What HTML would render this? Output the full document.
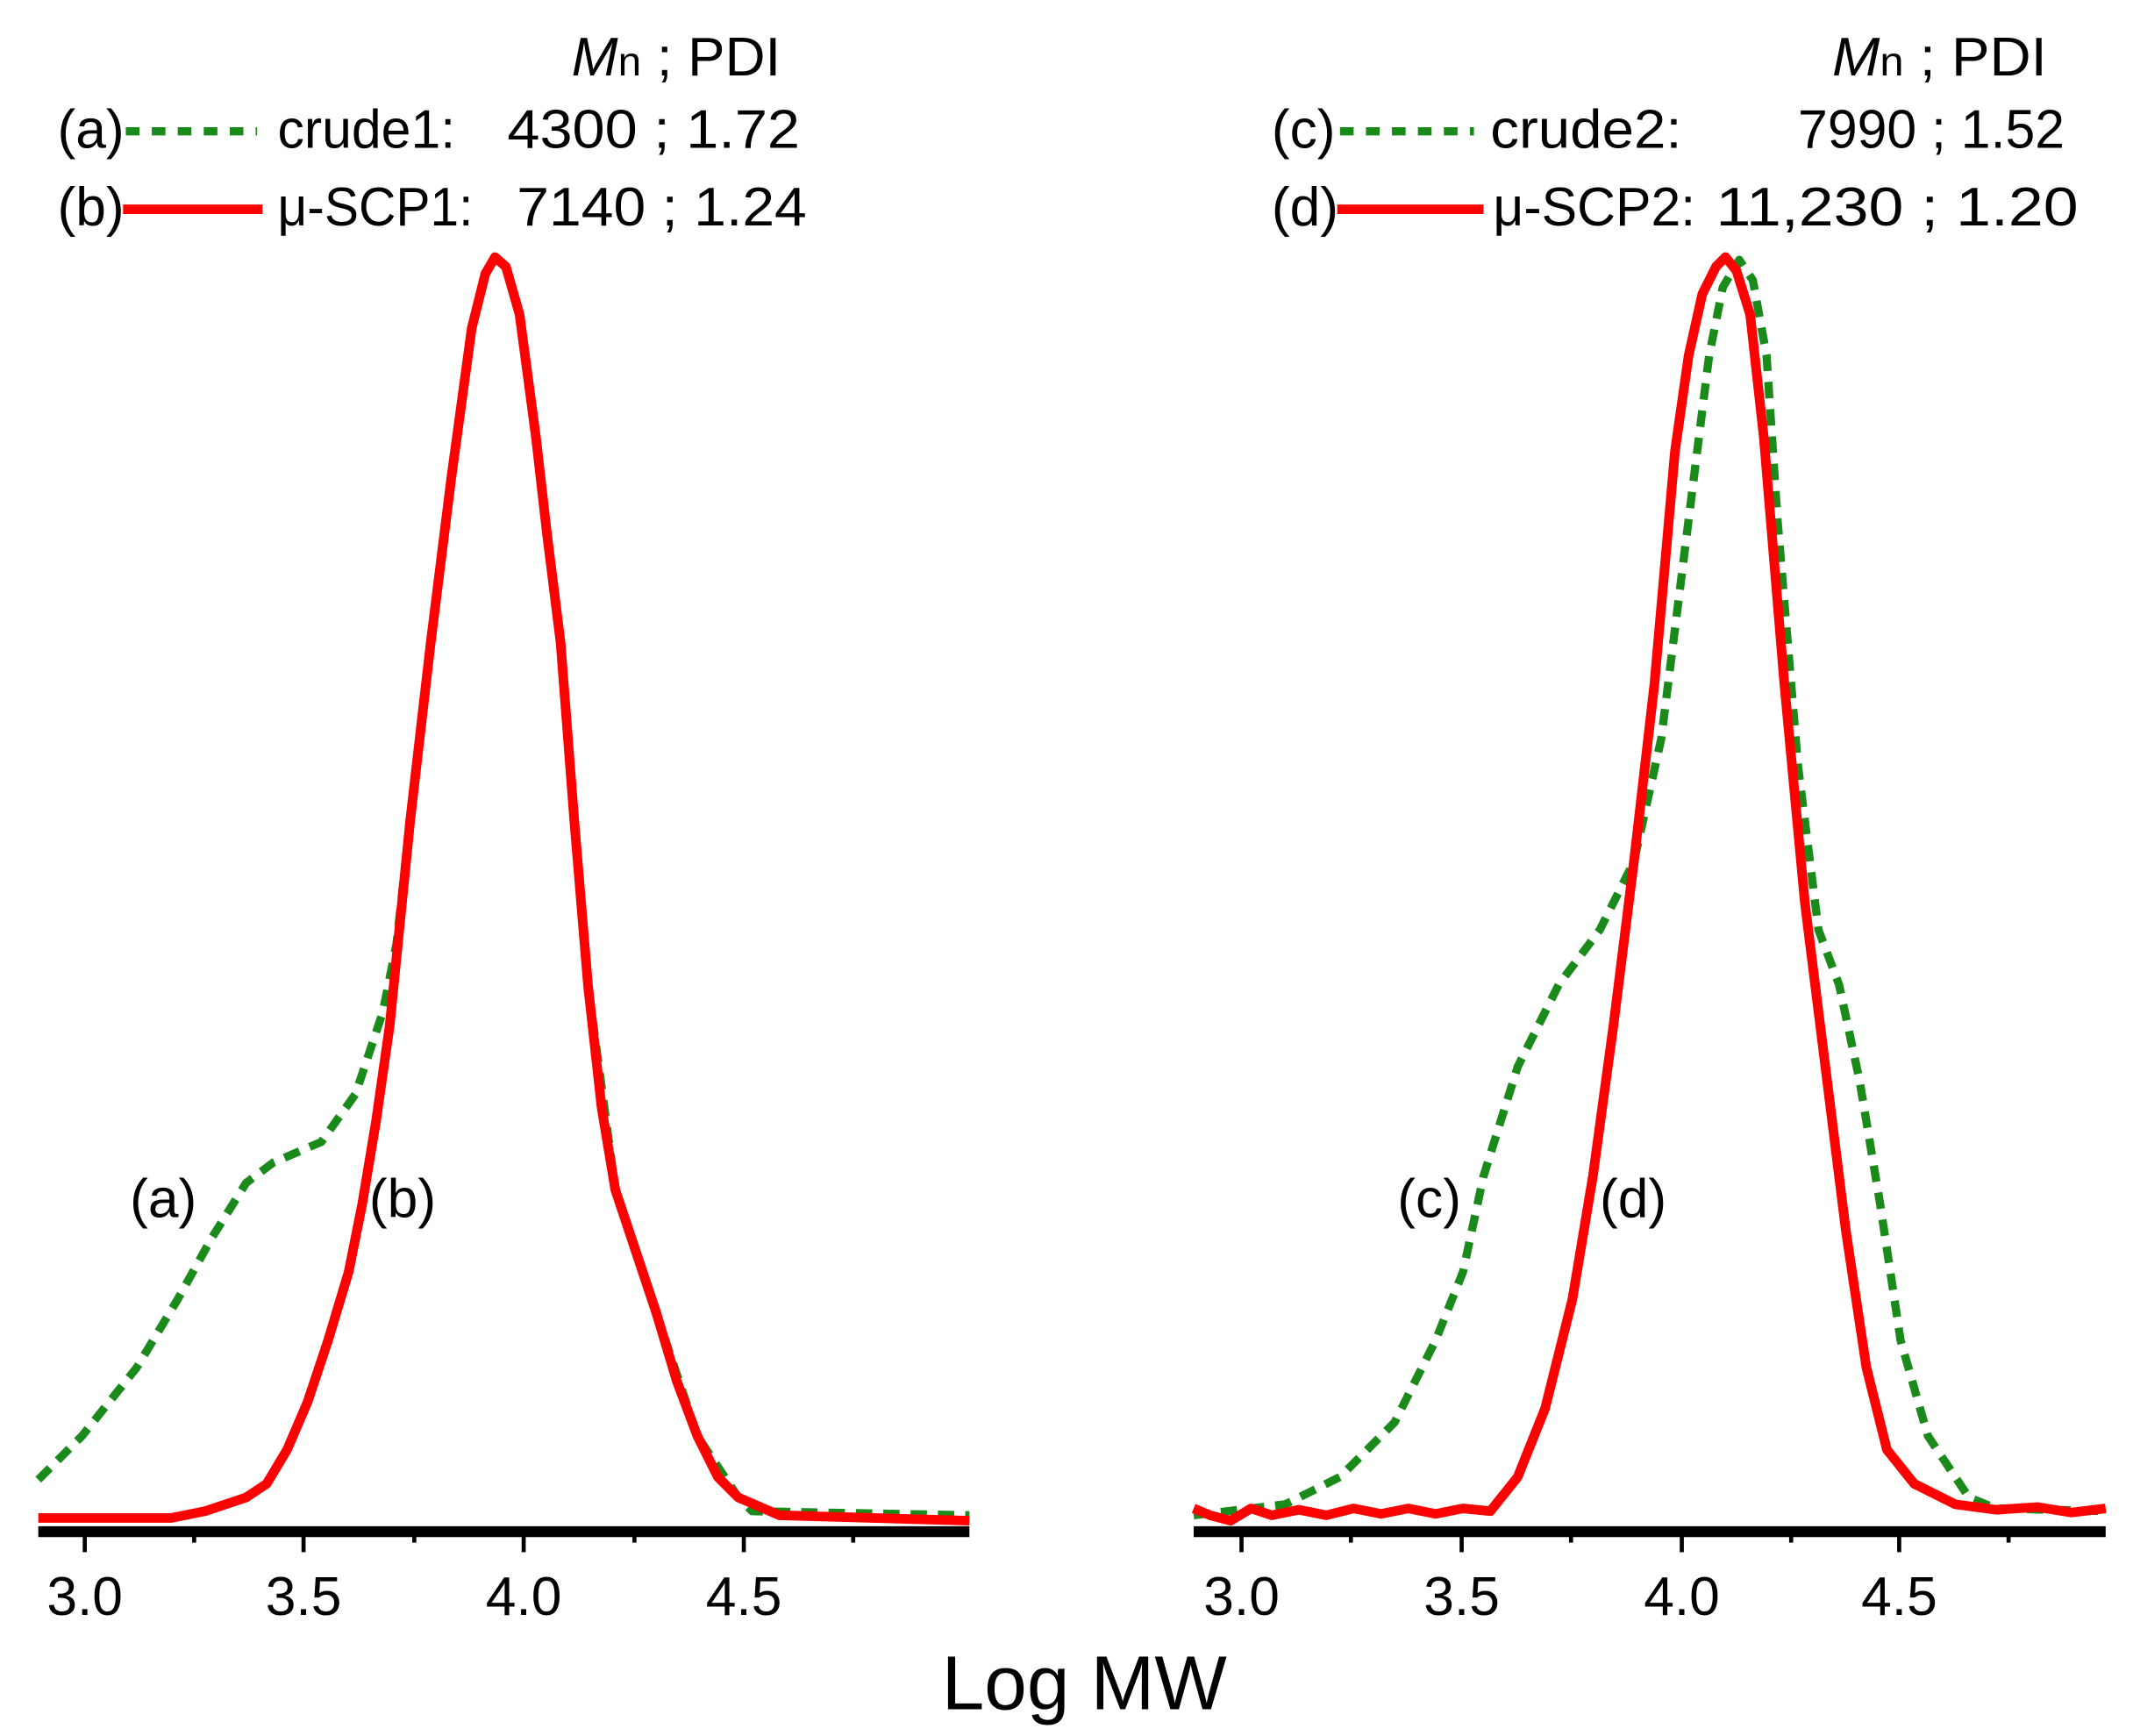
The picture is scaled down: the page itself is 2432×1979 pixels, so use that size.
<!DOCTYPE html>
<html><head><meta charset="utf-8"><style>html,body{margin:0;padding:0;background:#fff}svg{display:block}</style></head>
<body>
<svg width="2432" height="1979" viewBox="0 0 1560 1269.4" xmlns="http://www.w3.org/2000/svg" font-family="'Liberation Sans', Arial, sans-serif">
<rect width="1560" height="1270" fill="#fff"/>
<line x1="28" y1="1120" x2="709" y2="1120" stroke="#000" stroke-width="8"/>
<line x1="873" y1="1120" x2="1540" y2="1120" stroke="#000" stroke-width="8"/>
<g stroke="#000" stroke-width="3">
<line x1="62" y1="1120" x2="62" y2="1135"/><line x1="142" y1="1120" x2="142" y2="1128"/>
<line x1="222" y1="1120" x2="222" y2="1135"/><line x1="303" y1="1120" x2="303" y2="1128"/>
<line x1="383" y1="1120" x2="383" y2="1135"/><line x1="464" y1="1120" x2="464" y2="1128"/>
<line x1="544" y1="1120" x2="544" y2="1135"/><line x1="624" y1="1120" x2="624" y2="1128"/>
<line x1="908" y1="1120" x2="908" y2="1135"/><line x1="988" y1="1120" x2="988" y2="1128"/>
<line x1="1069" y1="1120" x2="1069" y2="1135"/><line x1="1149" y1="1120" x2="1149" y2="1128"/>
<line x1="1230" y1="1120" x2="1230" y2="1135"/><line x1="1310" y1="1120" x2="1310" y2="1128"/>
<line x1="1389" y1="1120" x2="1389" y2="1135"/><line x1="1469" y1="1120" x2="1469" y2="1128"/>
</g>
<g font-size="40" text-anchor="middle" fill="#000">
<text x="62" y="1181">3.0</text><text x="222" y="1181">3.5</text><text x="383" y="1181">4.0</text><text x="544" y="1181">4.5</text>
<text x="908" y="1181">3.0</text><text x="1069" y="1181">3.5</text><text x="1230" y="1181">4.0</text><text x="1389" y="1181">4.5</text>
</g>
<text x="793" y="1250" font-size="56" text-anchor="middle">Log MW</text>
<g fill="none" stroke-linejoin="round" stroke-linecap="butt">
<polyline stroke="#1a8a1a" stroke-width="6" stroke-dasharray="12,8" points="28,1082 60,1050 100,1000 130,950 155,905 180,865 200,850 235,835 260,800 280,740 290,690 300,600 315,470 330,350 345,240 355,200 362,188 370,195 380,230 392,320 410,470 430,720 450,870 480,960 510,1050 540,1095 550,1105 600,1106 709,1108"/>
<polyline stroke="#f00" stroke-width="7" points="28,1110 125,1110 150,1105 180,1095 195,1085 210,1060 225,1025 240,980 255,930 265,880 275,820 285,750 300,600 315,470 330,350 345,240 355,200 362,188 370,195 380,230 392,320 400,390 410,470 420,600 430,720 440,810 450,870 465,915 480,960 495,1010 510,1050 525,1080 540,1095 570,1108 709,1112"/>
<polyline stroke="#1a8a1a" stroke-width="6" stroke-dasharray="12,8" points="873,1108 940,1100 980,1080 1020,1040 1050,980 1070,930 1085,860 1110,780 1140,720 1170,680 1195,630 1215,540 1235,380 1250,260 1260,210 1272,190 1282,205 1292,260 1300,380 1315,560 1330,680 1345,720 1360,790 1375,880 1390,980 1410,1050 1440,1095 1460,1103 1540,1105"/>
<polyline stroke="#f00" stroke-width="7" points="873,1103 885,1108 900,1112 915,1103 930,1108 950,1104 970,1108 990,1103 1010,1107 1030,1103 1050,1107 1070,1103 1090,1105 1110,1080 1130,1030 1150,950 1165,860 1180,750 1195,630 1210,500 1225,330 1235,260 1245,215 1255,195 1262,188 1270,198 1280,230 1290,320 1305,500 1320,660 1335,780 1350,900 1365,1000 1380,1060 1400,1085 1430,1100 1460,1104 1490,1102 1515,1106 1540,1103"/>
</g>
<g font-size="40" fill="#000">
<text x="418" y="55" textLength="153" lengthAdjust="spacingAndGlyphs"><tspan font-style="italic">M</tspan><tspan font-size="30">n</tspan> ; PDI</text>
<text x="42" y="108">(a)</text>
<text x="203" y="108" textLength="130" lengthAdjust="spacingAndGlyphs">crude1:</text>
<text x="371" y="108" textLength="214" lengthAdjust="spacingAndGlyphs">4300 ; 1.72</text>
<text x="42" y="165">(b)</text>
<text x="203" y="165" textLength="143" lengthAdjust="spacingAndGlyphs">μ-SCP1:</text>
<text x="378" y="165" textLength="212" lengthAdjust="spacingAndGlyphs">7140 ; 1.24</text>
<text x="1340" y="55" textLength="157" lengthAdjust="spacingAndGlyphs"><tspan font-style="italic">M</tspan><tspan font-size="30">n</tspan> ; PDI</text>
<text x="930" y="108">(c)</text>
<text x="1090" y="108" textLength="140" lengthAdjust="spacingAndGlyphs">crude2:</text>
<text x="1315" y="108" textLength="195" lengthAdjust="spacingAndGlyphs">7990 ; 1.52</text>
<text x="930" y="165">(d)</text>
<text x="1092" y="165" textLength="148" lengthAdjust="spacingAndGlyphs">μ-SCP2:</text>
<text x="1255" y="165" textLength="265" lengthAdjust="spacingAndGlyphs">11,230 ; 1.20</text>
<text x="95" y="890">(a)</text>
<text x="270" y="890">(b)</text>
<text x="1022" y="890">(c)</text>
<text x="1170" y="890">(d)</text>
</g>
<line x1="92" y1="96" x2="188" y2="96" stroke="#1a8a1a" stroke-width="6" stroke-dasharray="10,9"/>
<line x1="90" y1="153" x2="192" y2="153" stroke="#f00" stroke-width="7"/>
<line x1="980" y1="96" x2="1078" y2="96" stroke="#1a8a1a" stroke-width="6" stroke-dasharray="10,9"/>
<line x1="978" y1="153" x2="1085" y2="153" stroke="#f00" stroke-width="7"/>
</svg>
</body></html>
